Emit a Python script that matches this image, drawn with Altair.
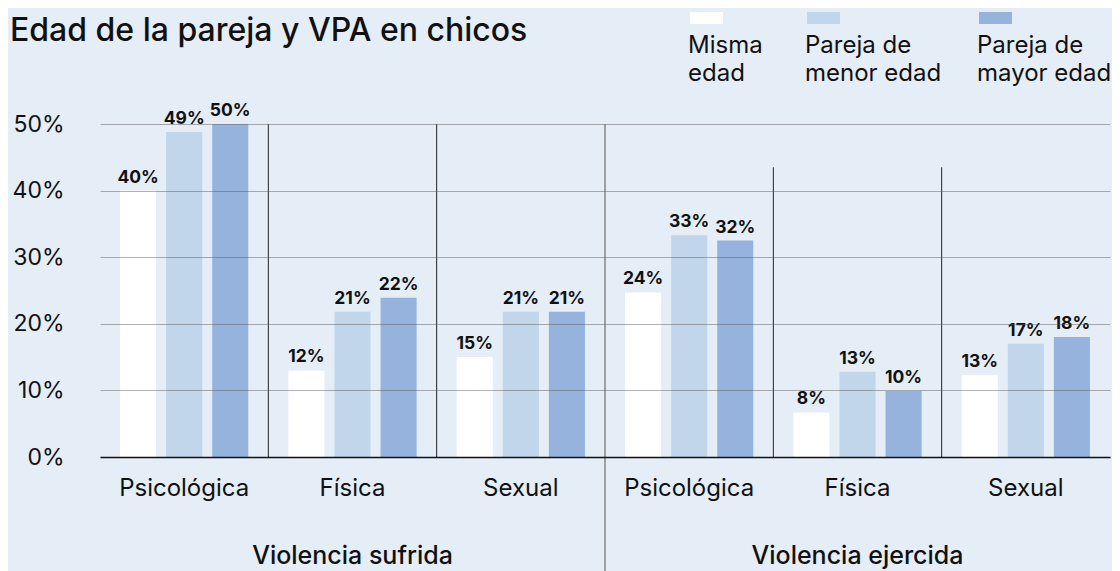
import altair as alt
import pandas as pd

FONT = "Inter"
TEXT_COLOR = "#111111"
BG = "#e5edf7"

TITULO = "Edad de la pareja y VPA en chicos"
CATEGORIAS = ["Psicológica", "Física", "Sexual"]
GRUPOS = ["Violencia sufrida", "Violencia ejercida"]
SERIES = ["Misma edad", "Pareja de menor edad", "Pareja de mayor edad"]
LEYENDA_LINEAS = [["Misma", "edad"], ["Pareja de", "menor edad"], ["Pareja de", "mayor edad"]]
COLORES = ["#ffffff", "#c2d6eb", "#96b3de"]

# bar heights (as drawn) in %, order: sufrida Psico/Física/Sexual, ejercida Psico/Física/Sexual
MISMA = [40.0, 13.0, 15.0, 24.7, 6.7, 12.3]
MENOR = [48.8, 21.8, 21.8, 33.3, 12.8, 17.0]
MAYOR = [50.0, 23.9, 21.8, 32.5, 9.9, 18.0]
# printed labels
ETQ_MISMA = ["40%", "12%", "15%", "24%", "8%", "13%"]
ETQ_MENOR = ["49%", "21%", "21%", "33%", "13%", "17%"]
ETQ_MAYOR = ["50%", "22%", "21%", "32%", "10%", "18%"]
Y_TICKS = [0, 10, 20, 30, 40, 50]
DIV_TOPS = [50, 50, 43.5, 43.5]

# ---- build tables
orden = [f"{c}|{g}" for g in range(len(GRUPOS)) for c in CATEGORIAS]
rows = []
for vals, etqs, s in zip([MISMA, MENOR, MAYOR], [ETQ_MISMA, ETQ_MENOR, ETQ_MAYOR], SERIES):
    for i, clave in enumerate(orden):
        rows.append({"clave": clave, "serie": s, "valor": vals[i], "etq": etqs[i]})
df = pd.DataFrame(rows)

div_claves = [f"{c}|{g}" for g in range(len(GRUPOS)) for c in CATEGORIAS[1:]]
df_div = pd.DataFrame({"clave": div_claves, "top": DIV_TOPS})
df_main = pd.DataFrame({"clave": [f"{CATEGORIAS[0]}|1"]})
df_grp = pd.DataFrame({"clave": [f"{CATEGORIAS[1]}|{g}" for g in range(len(GRUPOS))], "grupo": GRUPOS})
df_tit = pd.DataFrame({"t": [TITULO]})

x_enc = alt.X(
    "clave:N", sort=orden, title=None,
    scale=alt.Scale(paddingInner=0, paddingOuter=0),
    axis=alt.Axis(
        labelExpr="split(datum.label, '|')[0]", labelFontSize=24, labelPadding=19,
        labelColor=TEXT_COLOR, ticks=False, domainColor="#111111", domainWidth=1.5,
        labelAngle=0, zindex=2,
    ),
)
xoff = alt.XOffset("serie:N", sort=SERIES,
                   scale=alt.Scale(paddingInner=0.217, paddingOuter=0.435))
y_enc = alt.Y(
    "valor:Q", title=None,
    scale=alt.Scale(domain=[0, 50], nice=False),
    axis=alt.Axis(
        values=Y_TICKS, labelExpr="datum.value + '%'", grid=True, gridColor="#555555",
        gridOpacity=0.45, gridWidth=1, domain=False, ticks=False, labelPadding=36,
        labelFontSize=23, labelColor=TEXT_COLOR, zindex=1,
    ),
)

bars = alt.Chart(df).mark_bar().encode(
    x=x_enc, xOffset=xoff, y=y_enc,
    color=alt.Color("serie:N", sort=SERIES, scale=alt.Scale(domain=SERIES, range=COLORES), legend=None),
)
labels = alt.Chart(df).mark_text(
    dy=-8, baseline="alphabetic", fontSize=17.5, fontWeight="bold", color=TEXT_COLOR, font=FONT
).encode(x=alt.X("clave:N", sort=orden), xOffset=xoff, y="valor:Q", text="etq:N")

dividers = alt.Chart(df_div).mark_rule(color="#222222", strokeWidth=1).encode(
    x=alt.X("clave:N", sort=orden, bandPosition=0), y="top:Q", y2=alt.datum(0)
)
main_div = alt.Chart(df_main).mark_rule(color="#555555", strokeWidth=1).encode(
    x=alt.X("clave:N", sort=orden, bandPosition=0), y=alt.datum(50), y2=alt.value(452)
)
grupos = alt.Chart(df_grp).mark_text(
    baseline="alphabetic", fontSize=25, fontWeight=500, color=TEXT_COLOR, font=FONT
).encode(x=alt.X("clave:N", sort=orden), y=alt.value(440), text="grupo:N")

titulo = alt.Chart(df_tit).mark_text(
    align="left", baseline="alphabetic", fontSize=32, fontWeight=500, color=TEXT_COLOR, font=FONT
).encode(x=alt.value(-90), y=alt.value(-83), text="t:N")

LEY_X = [590, 707, 879]
ley_layers = []
for i in range(len(SERIES)):
    d = pd.DataFrame({"serie": [SERIES[i]]})
    ley_layers.append(
        alt.Chart(d).mark_rect(color=COLORES[i]).encode(
            x=alt.value(LEY_X[i]), x2=alt.value(LEY_X[i] + 33),
            y=alt.value(-112), y2=alt.value(-100),
        )
    )
    ley_layers.append(
        alt.Chart(d).mark_text(
            text=LEYENDA_LINEAS[i], align="left", baseline="alphabetic", fontSize=24,
            lineHeight=28, color=TEXT_COLOR, font=FONT,
        ).encode(x=alt.value(LEY_X[i] - 2), y=alt.value(-71))
    )

chart = alt.layer(
    bars, labels, dividers, main_div, grupos, titulo, *ley_layers
).properties(
    width=1010, height=333,
    padding={"left": 92, "top": 116, "right": 2, "bottom": 114},
    autosize=alt.AutoSizeParams(type="none"),
    background=BG,
).configure_view(stroke=None).configure_axis(labelFont=FONT).configure_text(font=FONT)

chart.save("out.html", embed_options={"renderer": "svg", "actions": False})
